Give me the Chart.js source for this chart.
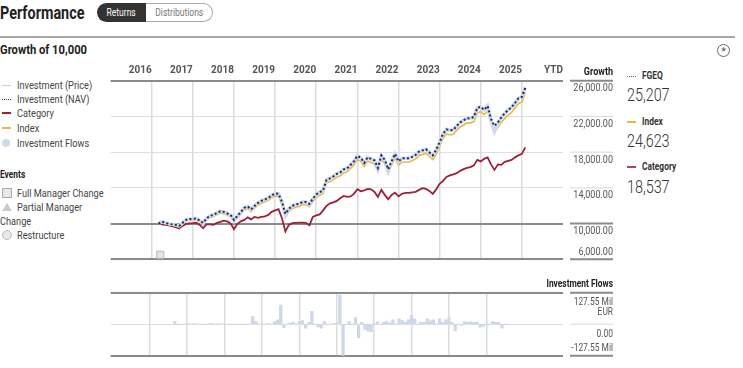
<!DOCTYPE html>
<html>
<head>
<meta charset="utf-8">
<script src="https://cdn.jsdelivr.net/npm/chart.js@4.4.1/dist/chart.umd.min.js"></script>
<style>
  body { margin:0; width:743px; height:368px; overflow:hidden; background:#fff; position:relative;
         font-family:Roboto,"Liberation Sans",sans-serif; color:#333; }
  .abs { position:absolute; white-space:nowrap; }
  .sq { display:inline-block; transform:scaleX(0.8); transform-origin:0 50%; }
  .leg { font-size:11.5px; color:#444; line-height:14px; }
  .ico { position:absolute; left:2px; width:9px; }
  .rl { font-size:10.5px; font-weight:bold; color:#333; line-height:14px; }
  .rv { font-size:17.5px; font-weight:300; color:#333; line-height:20px; }
</style>
</head>
<body>

<div class="abs" style="left:0;top:1px;font-size:18px;font-weight:bold;color:#222;line-height:24px;"><span class="sq" style="transform:scaleX(0.8);">Performance</span></div>
<div class="abs" style="left:97px;top:3px;width:49px;height:19px;background:#333;border-radius:10px 0 0 10px;color:#fff;font-size:10px;line-height:19px;text-align:center;"><span class="sq" style="transform:scaleX(0.85);transform-origin:50% 50%;">Returns</span></div>
<div class="abs" style="left:146px;top:3px;width:66px;height:17px;border:1px solid #aaa;border-left:none;border-radius:0 10px 10px 0;color:#777;font-size:10px;line-height:17px;text-align:center;"><span class="sq" style="transform:scaleX(0.85);transform-origin:50% 50%;">Distributions</span></div>
<div class="abs" style="left:0;top:36px;width:735px;height:2px;background:#a8a8a8;"></div>
<div class="abs" style="left:0;top:41px;font-size:13.5px;font-weight:bold;color:#222;line-height:16px;"><span class="sq" style="transform:scaleX(0.83);">Growth of 10,000</span></div>
<div class="abs" style="left:717px;top:44px;width:11px;height:11px;border:1px solid #666;border-radius:50%;font-size:11px;line-height:14px;text-align:center;color:#555;">*</div>

<!-- left legend -->
<div class="abs leg" style="left:0;top:78px;"><span class="ico" style="top:7px;border-top:1.5px solid #bccde6;"></span><span class="sq" style="margin-left:16.7px;">Investment (Price)</span></div>
<div class="abs leg" style="left:0;top:92.3px;"><span class="ico" style="top:7px;border-top:1.5px dotted #2b3a6b;"></span><span class="sq" style="margin-left:16.7px;">Investment (NAV)</span></div>
<div class="abs leg" style="left:0;top:106.3px;"><span class="ico" style="top:6px;border-top:2px solid #9c2139;"></span><span class="sq" style="margin-left:16.7px;">Category</span></div>
<div class="abs leg" style="left:0;top:121.3px;"><span class="ico" style="top:6px;border-top:2px solid #e8b84a;"></span><span class="sq" style="margin-left:16.7px;">Index</span></div>
<div class="abs leg" style="left:0;top:135.7px;"><span class="ico" style="top:3px;width:8px;height:8px;border-radius:50%;background:#cfd9ea;"></span><span class="sq" style="margin-left:16.7px;">Investment Flows</span></div>
<div class="abs rl" style="left:0;top:168px;color:#222;"><span class="sq">Events</span></div>
<div class="abs leg" style="left:0;top:185.7px;"><span class="ico" style="top:2px;width:8px;height:8px;border:1px solid #aaa;background:#e8e8e8;"></span><span class="sq" style="margin-left:16.7px;">Full Manager Change</span></div>
<div class="abs leg" style="left:0;top:200px;"><span class="ico" style="top:3px;width:0;height:0;border-left:5px solid transparent;border-right:5px solid transparent;border-bottom:8px solid #cacaca;"></span><span class="sq" style="margin-left:16.7px;">Partial Manager</span></div>
<div class="abs leg" style="left:0;top:214px;"><span class="sq">Change</span></div>
<div class="abs leg" style="left:0;top:228px;"><span class="ico" style="top:2px;width:8px;height:8px;border:1px solid #bbb;border-radius:50%;background:#e8e8e8;"></span><span class="sq" style="margin-left:16.7px;">Restructure</span></div>

<!-- right legend -->
<div class="abs rl" style="left:627px;top:68.7px;"><span style="position:absolute;left:0;top:7px;width:9px;border-top:1.5px dotted #5a6a9a;"></span><span class="sq" style="margin-left:15px;">FGEQ</span></div>
<div class="abs rv" style="left:627px;top:85px;"><span class="sq" style="transform:scaleX(0.82);">25,207</span></div>
<div class="abs rl" style="left:627px;top:114.7px;"><span style="position:absolute;left:0;top:6px;width:9px;border-top:2px solid #e8b84a;"></span><span class="sq" style="margin-left:15px;">Index</span></div>
<div class="abs rv" style="left:627px;top:131px;"><span class="sq" style="transform:scaleX(0.82);">24,623</span></div>
<div class="abs rl" style="left:627px;top:160.3px;"><span style="position:absolute;left:0;top:6px;width:9px;border-top:2px solid #9c4a5c;"></span><span class="sq" style="margin-left:15px;">Category</span></div>
<div class="abs rv" style="left:627px;top:176.7px;"><span class="sq" style="transform:scaleX(0.82);">18,537</span></div>

<canvas id="growth" width="640" height="212" style="position:absolute;left:0;top:56px;"></canvas>
<canvas id="flows" width="640" height="95" style="position:absolute;left:0;top:270px;"></canvas>

<script>
const FONT = 'Roboto, "Liberation Sans", sans-serif';
Chart.defaults.font.family = FONT;

// x = months counted from Jan 2016; series begins at month 14
const firstMonth = 14;
const yearEnds = [12, 24, 36, 48, 60, 72, 84, 96, 108, 120, 132];
const yearLabels = ['2016','2017','2018','2019','2020','2021','2022','2023','2024','2025','YTD'];
const growthTicks = [6000, 10000, 14000, 18000, 22000, 26000];
const flowTicks = [-127.55, 0, 127.55];
const managerChange = [14.5];

const nav = [10000,10224,10080,9966,9910,9854,9742,10078,10414,10526,
  10526,10582,10336,10078,10582,10862,10974,11198,11366,11310,
  11142,10974,10414,10862,11310,11758,11926,11590,11982,12318,
  12542,12710,12878,13158,13382,13326,12430,11086,11646,11982,
  12150,12206,12430,12430,12206,12766,13270,13494,13718,14894,
  15062,15286,15566,15734,16070,16182,16574,16966,17582,17358,
  16798,17414,17246,17078,16238,17638,17134,16070,16966,17806,
  16966,17302,17325,17325,17470,17694,18064,18198,18333,17974,
  17638,18254,19094,20046,20550,20438,20494,20942,21334,21558,
  21805,21805,21950,22958,23070,22734,23182,21726,20942,21334,
  21894,22342,22734,23014,23518,24022,24190,25207];

const price = [10000,10224,10080,9966,9910,9854,9742,10078,10414,10526,
  10526,10582,10336,10000,10582,10862,10974,11198,11366,11310,
  11142,10974,10300,10862,11310,11758,11926,11590,11982,12318,
  12542,12710,12878,13158,13382,13326,12430,10900,11646,11982,
  12150,12206,12430,12430,12100,12766,13270,13494,13718,14894,
  15062,15286,15566,15734,16070,16182,16574,16966,17582,17358,
  16798,17414,17246,17078,16100,17638,17134,15900,16966,17806,
  16966,17302,17325,17325,17470,17694,18064,18198,18333,17974,
  17638,18254,19094,20046,20550,20438,20494,20942,21334,21558,
  21805,21805,21950,22958,23070,22734,23182,21500,20300,21100,
  21894,22342,22734,23014,23518,24022,24190,25207];

const indexSeries = [10000,10150,10010,9890,9820,9740,9610,9950,10290,10400,
  10390,10450,10190,9930,10420,10700,10800,11010,11170,11110,
  10950,10780,10210,10640,11080,11520,11690,11340,11730,12070,
  12280,12450,12610,12890,13100,13040,12120,10760,11340,11680,
  11850,11900,12120,12110,11880,12440,12940,13160,13380,14540,
  14700,14920,15190,15360,15680,15790,16180,16570,17180,16960,
  16380,17000,16830,16660,15810,17210,16700,15640,16530,17370,
  16540,16870,16890,16890,17030,17250,17620,17750,17880,17510,
  17170,17780,18610,19560,20050,19940,19990,20440,20820,21040,
  21280,21280,21420,22420,22530,22190,22640,21180,20390,20780,
  21330,21780,22170,22440,22940,23440,23610,24623];

const category = [10000,9910,9854,9798,9686,9597,9440,9742,9966,10022,
  10045,10101,9854,9485,9910,9910,9854,10078,10190,10336,
  10246,10022,9373,9966,10246,10414,10694,10470,10750,10638,
  10750,10806,10974,11310,11478,11613,10605,9104,9854,10045,
  10078,10112,10112,10078,9798,10750,10918,11030,11478,11982,
  12262,12374,12542,12845,13102,12990,13046,13326,13853,13606,
  13718,13886,13830,13550,12990,13774,13214,12710,13214,13472,
  13046,13326,13438,13438,13494,13550,13774,13965,13886,13662,
  13326,13830,14446,14782,15230,15398,15510,15645,15902,16093,
  16238,16317,16518,17134,16966,17246,17414,16630,16014,16630,
  16574,16910,17022,17134,17414,17638,17806,18537];

// monthly investment flows, Mil EUR
const flows = [11,0,0,0,3,0,3,0,0,0,
  0,3,3,0,2,0,0,0,0,0,
  0,0,0,0,0,31,11,0,0,0,
  2,0,11,18,77,-14,0,5,8,0,
  11,15,-16,8,52,0,-11,-16,11,0,
  0,3,4,118,-127.55,0,11,0,27,-55,
  8,-20,-28,-30,0,10,0,8,11,5,
  18,0,22,15,8,18,36,22,0,8,
  8,22,14,18,0,22,8,18,25,8,
  -27,0,-5,11,8,11,8,8,-12,-9,
  0,0,11,8,8,-16,0,0];

const months = nav.map((_, i) => firstMonth + i);
const pts = arr => arr.map((v, i) => ({x: months[i], y: v}));

// squeezed text, the source uses a condensed face
function drawText(ctx, text, x, y, squeeze) {
  ctx.save();
  ctx.translate(x, y);
  ctx.scale(squeeze, 1);
  ctx.fillText(text, 0, 0);
  ctx.restore();
}

// label column right of the plot
const sidePanel = {
  id: 'sidePanel',
  afterDraw(chart, args, opts) {
    const {ctx, chartArea} = chart;
    const y = chart.scales.y;
    const x0 = chartArea.right + 7, x1 = chartArea.right + 50;
    ctx.save();
    ctx.textAlign = 'right';
    ctx.textBaseline = 'middle';
    ctx.font = 'bold 10.5px ' + FONT;
    ctx.fillStyle = '#222';
    drawText(ctx, opts.title, x1, chartArea.top + opts.titleDy, opts.squeeze);
    opts.items.forEach(it => {
      const py = y.getPixelForValue(it.v);
      ctx.strokeStyle = it.dark ? '#8a8a8a' : '#d8d8d8';
      ctx.lineWidth = it.dark ? 2 : 1;
      ctx.beginPath(); ctx.moveTo(x0, py); ctx.lineTo(x1, py); ctx.stroke();
      ctx.font = '10.5px ' + FONT;
      ctx.fillStyle = '#555';
      it.lines.forEach((t, k) => drawText(ctx, t, x1, py + it.dy + k * 10, opts.squeeze));
    });
    ctx.restore();
  }
};

const fmt = v => v.toLocaleString('en-US', {minimumFractionDigits: 2, maximumFractionDigits: 2});
const growthDark = [6000, 10000, 26000];

new Chart(document.getElementById('growth'), {
  type: 'line',
  data: {
    datasets: [
      {label: 'Investment (NAV)', data: pts(nav), borderColor: '#1f2d5c', borderWidth: 2, borderDash: [2, 2.3], pointRadius: 0, tension: 0},
      {label: 'Investment (Price)', data: pts(price), borderColor: '#cdd9ec', borderWidth: 3.5, pointRadius: 0, tension: 0},
      {label: 'Index', data: pts(indexSeries), borderColor: '#e8b84a', borderWidth: 1.6, pointRadius: 0, tension: 0},
      {label: 'Category', data: pts(category), borderColor: '#9c2139', borderWidth: 1.8, pointRadius: 0, tension: 0},
      {type: 'scatter', label: 'Full Manager Change', data: managerChange.map(m => ({x: m, y: 6500})),
       pointStyle: 'rect', pointRadius: 5, backgroundColor: '#e4e4e4', borderColor: '#b8b8b8', borderWidth: 1}
    ]
  },
  options: {
    responsive: false, animation: false, events: [],
    layout: {padding: {left: 110.6, top: 4.7, bottom: 8.7, right: 0}},
    plugins: {
      legend: {display: false}, tooltip: {enabled: false},
      sidePanel: {
        title: 'Growth', titleDy: -8, squeeze: 0.86,
        items: growthTicks.map(v => ({v, lines: [fmt(v)], dy: v === 6000 ? -7 : 8, dark: growthDark.includes(v)}))
      }
    },
    scales: {
      x: {
        type: 'linear', position: 'top', min: 0, max: 132,
        afterBuildTicks: s => { s.ticks = yearEnds.map(v => ({value: v})); },
        afterFit: s => { s.height = 20; },
        ticks: {align: 'end', padding: 4, color: '#555', font: {weight: 'bold', size: 10},
                autoSkip: false, maxRotation: 0, callback: v => yearLabels[yearEnds.indexOf(v)]},
        grid: {drawTicks: false, lineWidth: 1.5, color: c => (c.tick && c.tick.value < 132) ? '#dcdcdc' : 'rgba(0,0,0,0)'},
        border: {display: false}
      },
      y: {
        position: 'right', min: 6000, max: 26000,
        afterBuildTicks: s => { s.ticks = growthTicks.map(v => ({value: v})); },
        afterFit: s => { s.width = 77; },
        ticks: {display: false},
        grid: {drawTicks: false,
               color: c => growthDark.includes(c.tick.value) ? '#8a8a8a' : '#dedede',
               lineWidth: c => growthDark.includes(c.tick.value) ? 2 : 1},
        border: {display: false}
      }
    }
  },
  plugins: [sidePanel]
});

new Chart(document.getElementById('flows'), {
  type: 'bar',
  data: {
    datasets: [{label: 'Investment Flows', data: pts(flows), backgroundColor: '#ccd7ea', barThickness: 2.6}]
  },
  options: {
    responsive: false, animation: false, events: [],
    layout: {padding: {left: 110.6, top: 22.7, bottom: 9.3, right: 0}},
    plugins: {
      legend: {display: false}, tooltip: {enabled: false},
      sidePanel: {
        title: 'Investment Flows', titleDy: -8, squeeze: 0.8,
        items: [
          {v: flowTicks[2], lines: ['127.55 Mil', 'EUR'], dy: 10, dark: true},
          {v: flowTicks[1], lines: ['0.00'], dy: 10, dark: false},
          {v: flowTicks[0], lines: ['-127.55 Mil'], dy: -7, dark: true}
        ]
      }
    },
    scales: {
      x: {
        type: 'linear', min: 0, max: 132,
        afterBuildTicks: s => { s.ticks = yearEnds.map(v => ({value: v})); },
        afterFit: s => { s.height = 0; },
        ticks: {display: false},
        grid: {drawTicks: false, lineWidth: 1.5, color: c => (c.tick && c.tick.value < 132) ? '#dcdcdc' : 'rgba(0,0,0,0)'},
        border: {display: false}
      },
      y: {
        position: 'right', min: flowTicks[0], max: flowTicks[2],
        afterBuildTicks: s => { s.ticks = flowTicks.map(v => ({value: v})); },
        afterFit: s => { s.width = 77; },
        ticks: {display: false},
        grid: {drawTicks: false,
               color: c => c.tick.value === 0 ? '#dedede' : '#8a8a8a',
               lineWidth: c => c.tick.value === 0 ? 1 : 2},
        border: {display: false}
      }
    }
  },
  plugins: [sidePanel]
});
</script>
</body>
</html>
